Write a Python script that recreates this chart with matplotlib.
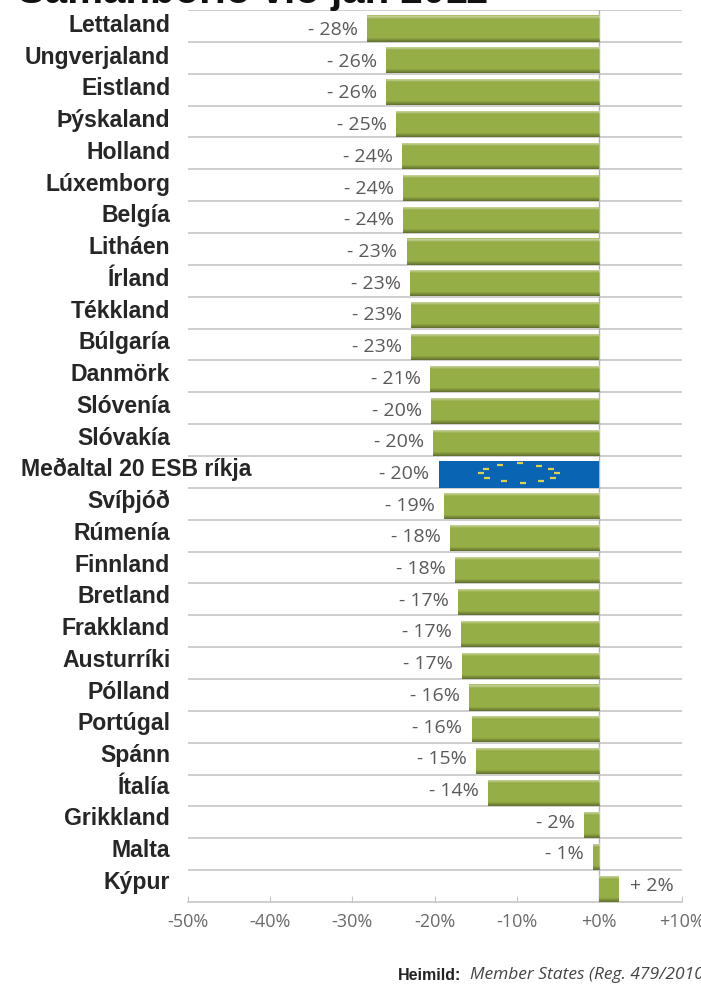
import matplotlib
matplotlib.use("Agg")
import matplotlib.pyplot as plt
import numpy as np

# lönd og gildi, lesið af myndinni
countries = ["Lettaland", "Ungverjaland", "Eistland", "Þýskaland", "Holland", "Lúxemborg", "Belgía",
             "Litháen", "Írland", "Tékkland", "Búlgaría", "Danmörk", "Slóvenía", "Slóvakía",
             "Meðaltal 20 ESB ríkja", "Svíþjóð", "Rúmenía", "Finnland", "Bretland", "Frakkland",
             "Austurríki", "Pólland", "Portúgal", "Spánn", "Ítalía", "Grikkland", "Malta", "Kýpur"]
values = [-28.2, -25.9, -25.9, -24.7, -23.9, -23.8, -23.8, -23.4, -23.0, -22.8, -22.8, -20.6, -20.4, -20.2,
          -19.5, -18.9, -18.1, -17.5, -17.1, -16.8, -16.7, -15.8, -15.5, -15.0, -13.5, -1.9, -0.8, 2.4]
labels = ["- 28%", "- 26%", "- 26%", "- 25%", "- 24%", "- 24%", "- 24%", "- 23%", "- 23%", "- 23%", "- 23%",
          "- 21%", "- 20%", "- 20%", "- 20%", "- 19%", "- 18%", "- 18%", "- 17%", "- 17%", "- 17%", "- 16%",
          "- 16%", "- 15%", "- 14%", "- 2%", "- 1%", "+ 2%"]
ticks = [-50, -40, -30, -20, -10, 0, 10]
tick_labels = ["-50%", "-40%", "-30%", "-20%", "-10%", "+0%", "+10%"]
title = "Samanborið við jan 2011"
avg_name = "Meðaltal 20 ESB ríkja"

W, H = 701, 986
fig = plt.figure(figsize=(W / 100, H / 100), dpi=100)
ax = fig.add_axes([187.5 / W, 1 - 902 / H, 494 / W, 892 / H])

# skygging: ljós efst, dökk neðst
shade = np.zeros((40, 1, 4))
shade[:6, 0, :3] = 1
shade[:6, 0, 3] = [0.1, 0.45, 0.4, 0.3, 0.2, 0.1]
shade[-6:, 0, 3] = np.linspace(0.05, 0.35, 6)

for i, (c, v, l) in enumerate(zip(countries, values, labels)):
    ax.axhline(i, color="#c6c6c6", lw=1.2, zorder=1)
    y = i + 0.58
    h = 0.82
    label_y = i * 0.9952 + 0.63
    if c == avg_name:
        ax.barh(y, v, height=h, color="#0a64b4", zorder=3)
        # stjörnur ESB fánans
        stars_x = [-12, -9.66, -7.35, -5.86, -5.13, -5.6, -7.07, -9.25, -11.6, -13.6, -14.3, -13.7]
        stars_y = [-0.3, -0.35, -0.28, -0.17, -0.04, 0.1, 0.2, 0.26, 0.22, 0.12, -0.04, -0.18]
        ax.scatter(stars_x, [y + s for s in stars_y], s=14, marker="_", color="#e0d24e", linewidths=1.6, zorder=4)
    else:
        ax.barh(y, v, height=h, color="#96ae46", zorder=3)
        ax.imshow(shade, extent=(min(v, 0), max(v, 0), y + h / 2, y - h / 2), aspect="auto",
                  interpolation="bilinear", zorder=4)
    if v > 0:
        ax.text(v + 1.4, label_y, l, ha="left", va="center", fontsize=14, color="#5a5a5a", family="Open Sans")
    else:
        ax.text(v - 1.1, label_y, l, ha="right", va="center", fontsize=14, color="#5a5a5a", family="Open Sans")
    name_x = -42.2 if c == avg_name else -52.1
    ax.text(name_x, i * 0.9963 + 0.69, c, ha="right", va="baseline", fontsize=16.6, fontweight="bold",
            color="#262626", family="Liberation Sans", clip_on=False)

ax.set_xlim(-50, 10)
ax.set_ylim(len(countries), 0)
ax.axvline(0, color="#b5b5b5", lw=1, zorder=2)
for s in ["top", "left", "right"]:
    ax.spines[s].set_visible(False)
ax.spines["bottom"].set_color("#c6c6c6")
ax.spines["bottom"].set_linewidth(1.2)
ax.set_yticks([])
ax.set_xticks(ticks)
ax.set_xticklabels(tick_labels, fontsize=13, color="#6a6a6a", family="Open Sans")
ax.tick_params(axis="x", direction="in", length=4, color="#c6c6c6", pad=8)

fig.text(18 / W, 1 - 3 / H, title, fontsize=29, fontweight="bold", color="#111111", family="Liberation Sans",
         va="baseline", ha="left")
fig.text(398 / W, 1 - 975 / H, "Heimild:", fontsize=11.5, fontweight="bold", color="#222222",
         family="Liberation Sans", va="center")
fig.text(470 / W, 1 - 975 / H, "Member States (Reg. 479/2010", fontsize=12.5, style="italic", color="#444444",
         family="Open Sans", va="center")

fig.savefig("out.png", dpi=100)
